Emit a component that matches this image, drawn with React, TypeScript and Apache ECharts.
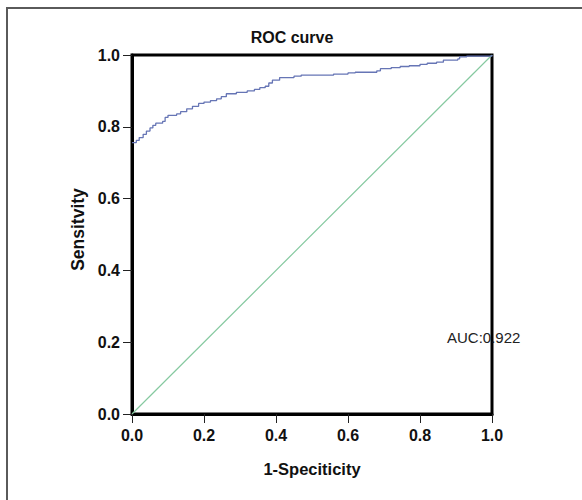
import React, { useEffect, useRef } from "react";
import * as echarts from "echarts";

const rocFpr = [0, 0.012, 0.02, 0.031, 0.04, 0.05, 0.058, 0.066, 0.085, 0.092, 0.1, 0.124, 0.135, 0.152, 0.168, 0.185, 0.2, 0.218, 0.235, 0.248, 0.262, 0.29, 0.32, 0.34, 0.355, 0.37, 0.38, 0.39, 0.41, 0.45, 0.47, 0.56, 0.6, 0.62, 0.68, 0.69, 0.72, 0.745, 0.77, 0.8, 0.82, 0.846, 0.865, 0.905, 0.91, 0.93, 1];
const rocTpr = [0.756, 0.762, 0.77, 0.779, 0.788, 0.797, 0.804, 0.81, 0.815, 0.826, 0.832, 0.836, 0.842, 0.85, 0.857, 0.865, 0.869, 0.873, 0.878, 0.884, 0.892, 0.896, 0.9, 0.904, 0.909, 0.913, 0.922, 0.93, 0.937, 0.941, 0.944, 0.947, 0.95, 0.952, 0.956, 0.962, 0.965, 0.968, 0.97, 0.974, 0.977, 0.98, 0.986, 0.989, 0.995, 0.997, 1];
const refX = [0, 1];
const refY = [0, 1];
const titleText = "ROC curve";
const xName = "1-Speciticity";
const yName = "Sensitvity";
const aucText = "AUC:0.922";

const FONT = "'Liberation Sans', Arial, Helvetica, sans-serif";

export default function App() {
  const ref = useRef<HTMLDivElement>(null);
  useEffect(() => {
    document.body.style.margin = "0";
    const chart = echarts.init(ref.current!, undefined, { renderer: "svg" });
    const rocData = rocFpr.map((x, i) => [x, rocTpr[i]]);
    const refData = refX.map((x, i) => [x, refY[i]]);
    chart.setOption({
      animation: false,
      backgroundColor: "#ffffff",
      grid: {
        left: 132,
        top: 55,
        width: 360,
        height: 359,
        show: true,
        borderColor: "#000",
        borderWidth: 3,
        backgroundColor: "transparent",
      },
      xAxis: {
        type: "value",
        min: 0,
        max: 1,
        interval: 0.2,
        name: xName,
        nameLocation: "middle",
        nameGap: 46,
        nameTextStyle: { fontFamily: FONT, fontWeight: "bold", fontSize: 16.5, color: "#111" },
        axisLine: { show: true, lineStyle: { color: "#000", width: 3 } },
        axisTick: { show: true, length: 9, lineStyle: { color: "#222", width: 1 } },
        axisLabel: {
          fontFamily: FONT,
          fontWeight: "bold",
          fontSize: 16,
          color: "#111",
          margin: 13,
          formatter: (v: number) => v.toFixed(1),
        },
        splitLine: { show: false },
      },
      yAxis: {
        type: "value",
        min: 0,
        max: 1,
        interval: 0.2,
        name: yName,
        nameLocation: "middle",
        nameGap: 41,
        nameTextStyle: { fontFamily: FONT, fontWeight: "bold", fontSize: 17.5, color: "#111", padding: [0, 0, 0, 10] },
        axisLine: { show: true, lineStyle: { color: "#000", width: 3 } },
        axisTick: { show: true, length: 9, lineStyle: { color: "#222", width: 1 } },
        axisLabel: {
          fontFamily: FONT,
          fontWeight: "bold",
          fontSize: 16,
          color: "#111",
          margin: 12,
          formatter: (v: number) => v.toFixed(1),
        },
        splitLine: { show: false },
      },
      graphic: [
        {
          type: "rect",
          shape: { x: 7, y: 8, width: 700, height: 700 },
          style: { fill: "none", stroke: "#5a5a5a", lineWidth: 2 },
          silent: true,
        },
        {
          type: "text",
          x: 292,
          y: 37,
          style: {
            text: titleText,
            fontFamily: FONT,
            fontWeight: "bold",
            fontSize: 16,
            fill: "#111",
            align: "center",
            verticalAlign: "middle",
          },
        },
        {
          type: "text",
          x: 447,
          y: 337,
          style: {
            text: aucText,
            fontFamily: FONT,
            fontSize: 15,
            fill: "#222",
            align: "left",
            verticalAlign: "middle",
          },
        },
      ],
      series: [
        {
          type: "line",
          data: refData,
          showSymbol: false,
          lineStyle: { color: "#86c9a0", width: 1.2 },
          z: 2,
        },
        {
          type: "line",
          data: rocData,
          step: "end",
          showSymbol: false,
          lineStyle: { color: "#6675b5", width: 1.3 },
          z: 3,
        },
      ],
    });
    return () => chart.dispose();
  }, []);
  return <div ref={ref} style={{ width: 582, height: 500 }} />;
}
